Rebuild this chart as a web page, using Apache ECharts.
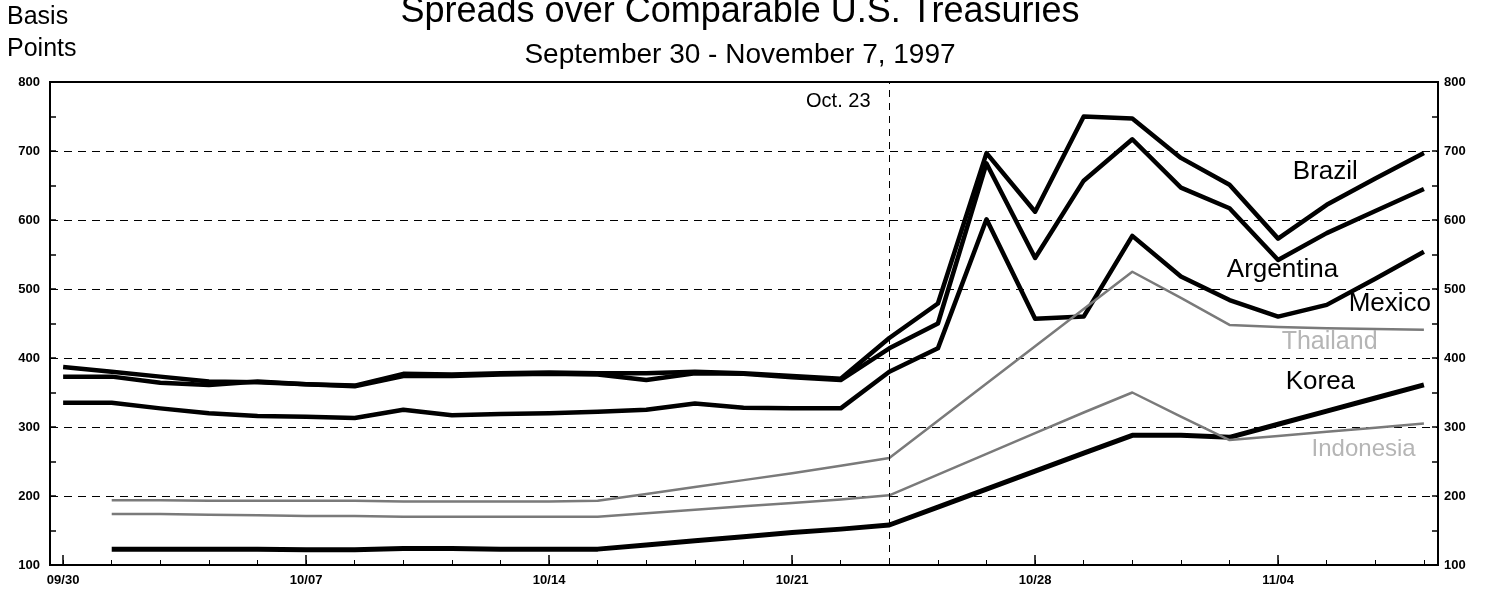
<!DOCTYPE html>
<html>
<head>
  <meta charset="UTF-8">
  <title>spreads-over-treasuries</title>
  <style>
    body { margin: 0; background: #fff; }
    #chart { width: 1492px; height: 595px; }
  </style>
  <script src="https://cdn.jsdelivr.net/npm/echarts@6.0.0/dist/echarts.min.js"></script>
</head>
<body>
<div id="chart"></div>
<script>
// business days, 09/30 - 11/07 1997
var dates = ['09/30', '10/01', '10/02', '10/03', '10/06', '10/07', '10/08', '10/09', '10/10',
  '10/13', '10/14', '10/15', '10/16', '10/17', '10/20', '10/21', '10/22', '10/23', '10/24',
  '10/27', '10/28', '10/29', '10/30', '10/31', '11/03', '11/04', '11/05', '11/06', '11/07'];
var labelIdx = [0, 5, 10, 15, 20, 25];
var yTicks = [100, 200, 300, 400, 500, 600, 700, 800];
var yMinorTicks = [100, 150, 200, 250, 300, 350, 400, 450, 500, 550, 600, 650, 700, 750, 800];

var brazil = [387, 380, 373, 366, 365, 362, 360, 377, 376, 378, 379, 378, 378, 380, 378, 374, 370,
  429, 479, 697, 612, 750, 747, 690, 651, 573, 622, 660, 697];
var argentina = [373, 373, 364, 361, 366, 362, 359, 374, 374, 376, 377, 376, 368, 378, 377, 372, 368,
  414, 450, 682, 545, 657, 717, 647, 617, 542, 581, 613, 645];
var mexico = [335, 335, 327, 320, 316, 315, 313, 325, 317, 319, 320, 322, 325, 334, 328, 327, 327,
  380, 414, 601, 457, 460, 577, 518, 484, 460, 477, 515, 554];
var thailand = [null, 194, 194, 193, 193, 193, 193, 192, 192, 192, 192, 193, 203, 213, 223, 233, 244,
  255, 309, 363, 417, 471, 525, 487, 448, 445, 443, 442, 441];
var korea = [null, 123, 123, 123, 123, 122, 122, 124, 124, 123, 123, 123, 129, 135, 141, 147, 152,
  158, 184, 210, 236, 262, 288, 288, 285, 304, 323, 342, 361];
var indonesia = [null, 174, 174, 173, 172, 171, 171, 170, 170, 170, 170, 170, 175, 180, 185, 190, 195,
  201, 231, 261, 291, 321, 350, 315, 281, 287, 293, 299, 305];

var FONT = '"Liberation Sans", Arial, sans-serif';

function pairs(arr) {
  var out = [];
  for (var i = 0; i < arr.length; i++) out.push([i, arr[i]]);
  return out;
}
function allIdx() {
  var out = [];
  for (var i = 0; i < dates.length; i++) out.push(i);
  return out;
}
// text tag placed in data coords
function tag(text, x, y, color, size) {
  return {
    coord: [x, y],
    symbol: 'circle',
    symbolSize: 1,
    itemStyle: { color: 'rgba(0,0,0,0)' },
    label: {
      show: true, position: 'inside', formatter: text,
      color: color, fontFamily: FONT, fontSize: size || 26
    }
  };
}
function lineSeries(name, data, color, width, tags) {
  return {
    type: 'line', name: name, data: pairs(data),
    showSymbol: false, symbol: 'none', connectNulls: false,
    lineStyle: { color: color, width: width, join: 'round' },
    silent: true, animation: false,
    markPoint: tags ? { silent: true, animation: false, data: tags } : undefined
  };
}

var xBase = {
  type: 'value', min: -0.27, max: 28.29,
  position: 'bottom',
  axisLine: { show: false, onZero: false },
  splitLine: { show: false }
};
function yBase(pos, margin) {
  return {
    type: 'value', position: pos, min: 100, max: 800, interval: 100,
    axisLine: { show: false, onZero: false },
    axisTick: { show: true, inside: true, length: 6, customValues: yMinorTicks,
      lineStyle: { color: '#000', width: 1.5 } },
    axisLabel: {
      customValues: yTicks, margin: margin,
      fontFamily: FONT, fontSize: 13, fontWeight: 'bold', color: '#000'
    },
    splitLine: { show: false }
  };
}

var chart = echarts.init(document.getElementById('chart'));
// third y axis only carries the dashed grid lines at each 100
var gridY = {
  type: 'value', position: 'left', min: 100, max: 800, interval: 100,
  axisLine: { show: false, onZero: false }, axisTick: { show: false }, axisLabel: { show: false },
  splitLine: { show: true, lineStyle: { color: '#000', width: 1, type: [8, 6] } }
};

var option = {
  backgroundColor: '#fff',
  animation: false,
  title: [
    { text: 'Spreads over Comparable U.S. Treasuries', left: 735, top: -11, textAlign: 'center',
      textStyle: { fontFamily: FONT, fontSize: 36, fontWeight: 'normal', color: '#000' } },
    { text: 'September 30 - November 7, 1997', left: 735, top: 36, textAlign: 'center',
      textStyle: { fontFamily: FONT, fontSize: 28, fontWeight: 'normal', color: '#000' } },
    { text: 'Basis', left: 2, top: 0,
      textStyle: { fontFamily: FONT, fontSize: 25, fontWeight: 'normal', color: '#000' } },
    { text: 'Points', left: 2, top: 32,
      textStyle: { fontFamily: FONT, fontSize: 25, fontWeight: 'normal', color: '#000' } }
  ],
  grid: {
    show: true, left: 50, right: 54, top: 82, bottom: 30,
    borderColor: '#000', borderWidth: 2, backgroundColor: '#fff'
  },
  xAxis: [
    Object.assign({}, xBase, {
      axisTick: { show: true, inside: true, length: 5, customValues: allIdx(),
        lineStyle: { color: '#000', width: 1 } },
      axisLabel: {
        customValues: labelIdx, margin: 9,
        formatter: function (v) { return dates[Math.round(v)]; },
        fontFamily: FONT, fontSize: 13, fontWeight: 'bold', color: '#000'
      }
    }),
    Object.assign({}, xBase, {
      axisTick: { show: true, inside: true, length: 10, customValues: labelIdx,
        lineStyle: { color: '#000', width: 1.5 } },
      axisLabel: { show: false }
    })
  ],
  yAxis: [yBase('left', 10), yBase('right', 6), gridY],
  series: [
    Object.assign(lineSeries('Brazil', brazil, '#000', 4.5, [tag('Brazil', 25.97, 670, '#000')]), {
      markLine: {
        silent: true, animation: false, symbol: 'none',
        label: { show: false },
        lineStyle: { color: '#000', width: 1, type: [7, 6] },
        data: [{ xAxis: 17 }]
      }
    }),
    lineSeries('Argentina', argentina, '#000', 4.5, [tag('Argentina', 25.09, 528, '#000'),
      tag('Oct. 23', 15.95, 772, '#000', 20)]),
    lineSeries('Mexico', mexico, '#000', 4.5, [tag('Mexico', 27.3, 478, '#000')]),
    lineSeries('Thailand', thailand, '#7a7a7a', 2.5, [tag('Thailand', 26.06, 423, '#b5b5b5', 25)]),
    lineSeries('Korea', korea, '#000', 5, [tag('Korea', 25.87, 365, '#000')]),
    lineSeries('Indonesia', indonesia, '#7a7a7a', 2.5, [tag('Indonesia', 26.76, 267, '#b5b5b5', 24)])
  ]
};
chart.setOption(option);
</script>
</body>
</html>
